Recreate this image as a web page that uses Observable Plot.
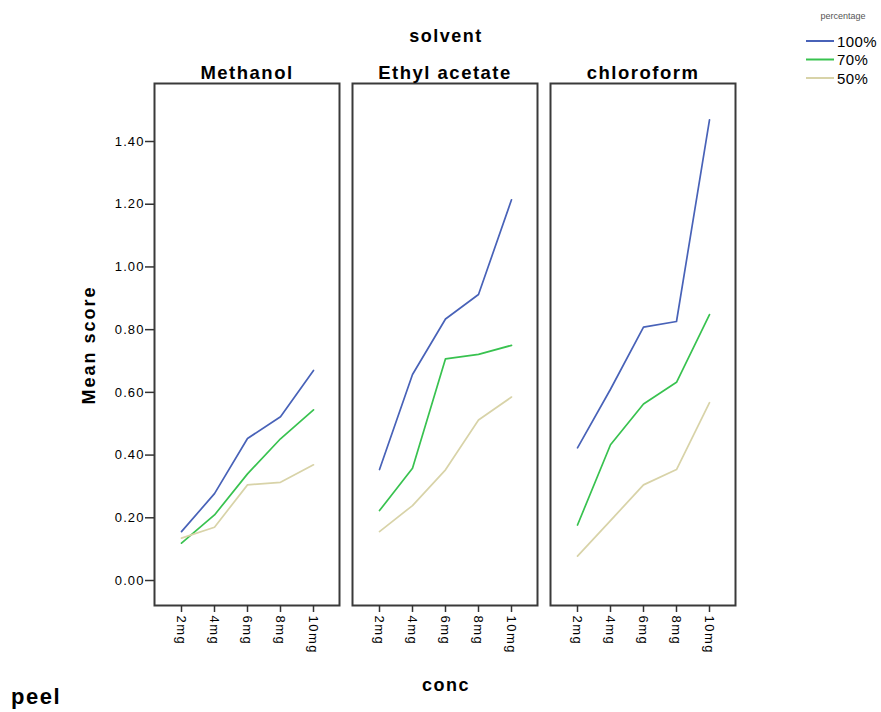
<!DOCTYPE html>
<html>
<head>
<meta charset="utf-8">
<script src="https://cdn.jsdelivr.net/npm/d3@7"></script>
<script src="https://cdn.jsdelivr.net/npm/@observablehq/plot@0.6"></script>
<style>
  body { margin: 0; background: #fff; font-family: "Liberation Sans", Arial, sans-serif; }
  #wrap { position: relative; width: 881px; height: 712px; }
  #wrap svg { position: absolute; left: 0; top: 0; }
  #wrap g[aria-label="y-axis tick label"] text { letter-spacing: 1.1px; }
  #wrap g[aria-label="x-axis tick label"] text { letter-spacing: 1.5px; }
  #wrap g[aria-label="text"] text { letter-spacing: 1.5px; }
  .ov { position: absolute; font-weight: bold; color: #000; white-space: nowrap; letter-spacing: 1.5px; }
</style>
</head>
<body>
<div id="wrap"></div>
<script>
const solvents = ["Methanol", "Ethyl acetate", "chloroform"];
const concs = ["2mg", "4mg", "6mg", "8mg", "10mg"];
const percentages = ["100%", "70%", "50%"];
const colors = ["#4862b8", "#38c24f", "#d8d3a8"];
const yTicks = [0, 0.2, 0.4, 0.6, 0.8, 1.0, 1.2, 1.4];

const methanol100 = [0.156, 0.277, 0.453, 0.522, 0.670];
const methanol70  = [0.119, 0.209, 0.340, 0.452, 0.544];
const methanol50  = [0.135, 0.170, 0.305, 0.313, 0.369];
const ethyl100 = [0.354, 0.657, 0.834, 0.912, 1.214];
const ethyl70  = [0.223, 0.358, 0.707, 0.721, 0.750];
const ethyl50  = [0.156, 0.239, 0.353, 0.512, 0.585];
const chloro100 = [0.423, 0.610, 0.808, 0.826, 1.469];
const chloro70  = [0.177, 0.433, 0.563, 0.632, 0.848];
const chloro50  = [0.078, 0.191, 0.305, 0.354, 0.567];

const series = [
  ["Methanol", "100%", methanol100], ["Methanol", "70%", methanol70], ["Methanol", "50%", methanol50],
  ["Ethyl acetate", "100%", ethyl100], ["Ethyl acetate", "70%", ethyl70], ["Ethyl acetate", "50%", ethyl50],
  ["chloroform", "100%", chloro100], ["chloroform", "70%", chloro70], ["chloroform", "50%", chloro50]
];
const data = series.flatMap(([solvent, pct, vals]) =>
  vals.map((value, i) => ({solvent, pct, conc: concs[i], value})));

const chart = Plot.plot({
  width: 881, height: 712,
  marginLeft: 153, marginRight: 144, marginTop: 83, marginBottom: 107,
  style: {fontFamily: "'Liberation Sans', Arial, sans-serif", fontSize: "13px", color: "#000", background: "transparent"},
  fx: {domain: solvents, padding: 0.065, axis: null},
  x: {domain: concs, type: "point", padding: 0.785},
  y: {domain: [-0.0797, 1.585]},
  color: {domain: percentages, range: colors},
  marks: [
    Plot.frame({stroke: "#3a3a3a", strokeWidth: 2}),
    Plot.axisY({ticks: yTicks, tickFormat: d3.format(".2f"), tickSize: 9, tickPadding: 1, label: null, stroke: "#333", strokeWidth: 1.5, fontSize: 13}),
    Plot.axisX({tickRotate: 90, tickSize: 7, tickPadding: 3, label: null, stroke: "#333", strokeWidth: 1.5, fontSize: 13}),
    Plot.line(data, {fx: "solvent", x: "conc", y: "value", stroke: "pct", z: "pct", strokeWidth: 1.7}),
    Plot.text(solvents, {fx: d => d, text: d => d, frameAnchor: "top", lineAnchor: "bottom", dy: -5, fontWeight: "bold", fontSize: 18.5, fill: "#000"})
  ]
});

const wrap = document.getElementById("wrap");
wrap.appendChild(chart);

function ov(text, css) {
  const d = document.createElement("div");
  d.className = "ov";
  d.textContent = text;
  Object.assign(d.style, css);
  wrap.appendChild(d);
  return d;
}
ov("solvent", {left: "446px", top: "36px", fontSize: "18px", transform: "translate(-50%,-50%)"});
ov("conc", {left: "446px", top: "685px", fontSize: "18px", transform: "translate(-50%,-50%)"});
ov("Mean score", {left: "89px", top: "345px", fontSize: "18px", letterSpacing: "2px", transform: "translate(-50%,-50%) rotate(-90deg)"});
ov("peel", {left: "11px", top: "697px", fontSize: "22px", letterSpacing: "1.5px", transform: "translate(0,-50%)"});

// legend
const lg = d3.select(wrap).append("svg")
  .attr("width", 120).attr("height", 95)
  .style("left", "780px").style("top", "0px");
lg.append("text").attr("x", 63).attr("y", 19).attr("text-anchor", "middle")
  .attr("font-size", 9).attr("fill", "#555").attr("font-family", "'Liberation Sans', Arial, sans-serif")
  .text("percentage");
percentages.forEach((p, i) => {
  const y = 41 + i * 18.5;
  lg.append("line").attr("x1", 26).attr("x2", 54).attr("y1", y).attr("y2", y)
    .attr("stroke", colors[i]).attr("stroke-width", 2);
  lg.append("text").attr("x", 57).attr("y", y + 5.5).attr("font-size", 15)
    .attr("letter-spacing", "0.4px")
    .attr("font-family", "'Liberation Sans', Arial, sans-serif").attr("fill", "#000").text(p);
});
</script>
</body>
</html>
